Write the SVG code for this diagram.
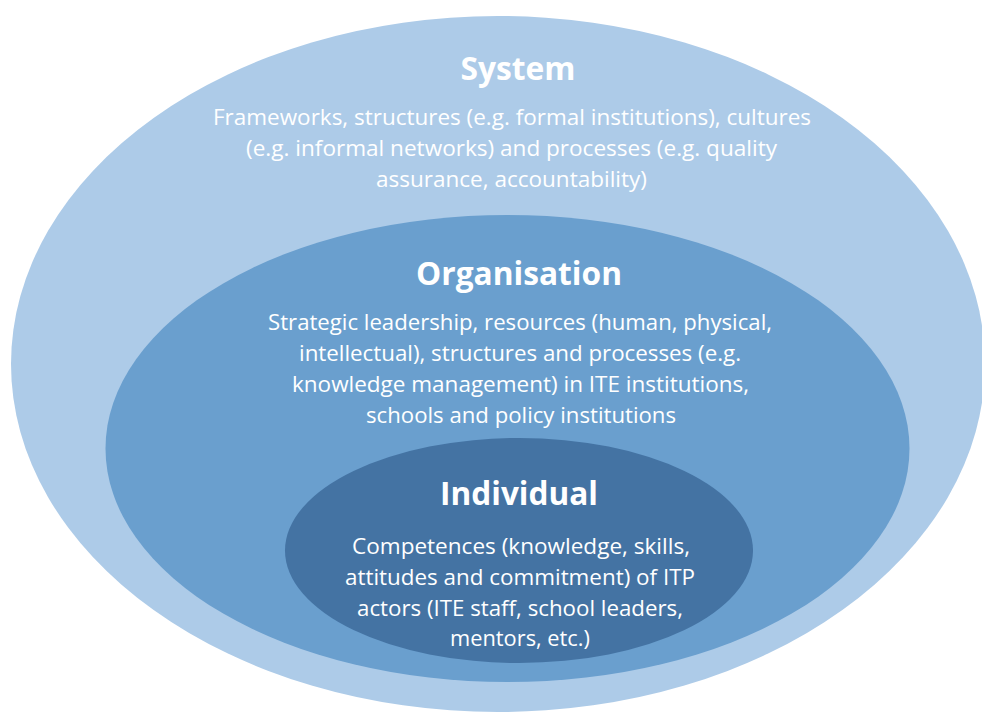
<svg xmlns="http://www.w3.org/2000/svg" width="982" height="714" viewBox="0 0 982 714">
  <style>
    .title { font-family: "Open Sans", "Liberation Sans", sans-serif; font-weight: bold; font-size: 32px; fill: #ffffff; text-anchor: middle; }
    .body { font-family: "Open Sans", "Liberation Sans", sans-serif; font-size: 22px; fill: #ffffff; text-anchor: middle; }
  </style>
  <rect x="0" y="0" width="982" height="714" fill="#ffffff"/>
  <g id="system">
    <ellipse cx="498" cy="364" rx="487" ry="348" fill="#ADCBE8"/>
    <text class="title" x="518" y="80" textLength="115" lengthAdjust="spacingAndGlyphs">System</text>
    <text class="body" x="512" y="125" textLength="598" lengthAdjust="spacingAndGlyphs">Frameworks, structures (e.g. formal institutions), cultures</text>
    <text class="body" x="511.5" y="156" textLength="531" lengthAdjust="spacingAndGlyphs">(e.g. informal networks) and processes (e.g. quality</text>
    <text class="body" x="511.5" y="187" textLength="271" lengthAdjust="spacingAndGlyphs">assurance, accountability)</text>
  </g>
  <g id="organisation">
    <ellipse cx="507.5" cy="448.5" rx="402" ry="233.5" fill="#6A9FCE"/>
    <text class="title" x="519" y="285" textLength="206" lengthAdjust="spacingAndGlyphs">Organisation</text>
    <text class="body" x="520" y="330" textLength="504" lengthAdjust="spacingAndGlyphs">Strategic leadership, resources (human, physical,</text>
    <text class="body" x="520" y="361" textLength="442" lengthAdjust="spacingAndGlyphs">intellectual), structures and processes (e.g.</text>
    <text class="body" x="520.5" y="392" textLength="457" lengthAdjust="spacingAndGlyphs">knowledge management) in ITE institutions,</text>
    <text class="body" x="521" y="423" textLength="310" lengthAdjust="spacingAndGlyphs">schools and policy institutions</text>
  </g>
  <g id="individual">
    <ellipse cx="519" cy="550.5" rx="234" ry="112.5" fill="#4473A3"/>
    <text class="title" x="519" y="505" textLength="158" lengthAdjust="spacingAndGlyphs">Individual</text>
    <text class="body" x="521" y="554" textLength="338" lengthAdjust="spacingAndGlyphs">Competences (knowledge, skills,</text>
    <text class="body" x="520" y="585" textLength="350" lengthAdjust="spacingAndGlyphs">attitudes and commitment) of ITP</text>
    <text class="body" x="520" y="616" textLength="326" lengthAdjust="spacingAndGlyphs">actors (ITE staff, school leaders,</text>
    <text class="body" x="520" y="646" textLength="140" lengthAdjust="spacingAndGlyphs">mentors, etc.)</text>
  </g>
</svg>
